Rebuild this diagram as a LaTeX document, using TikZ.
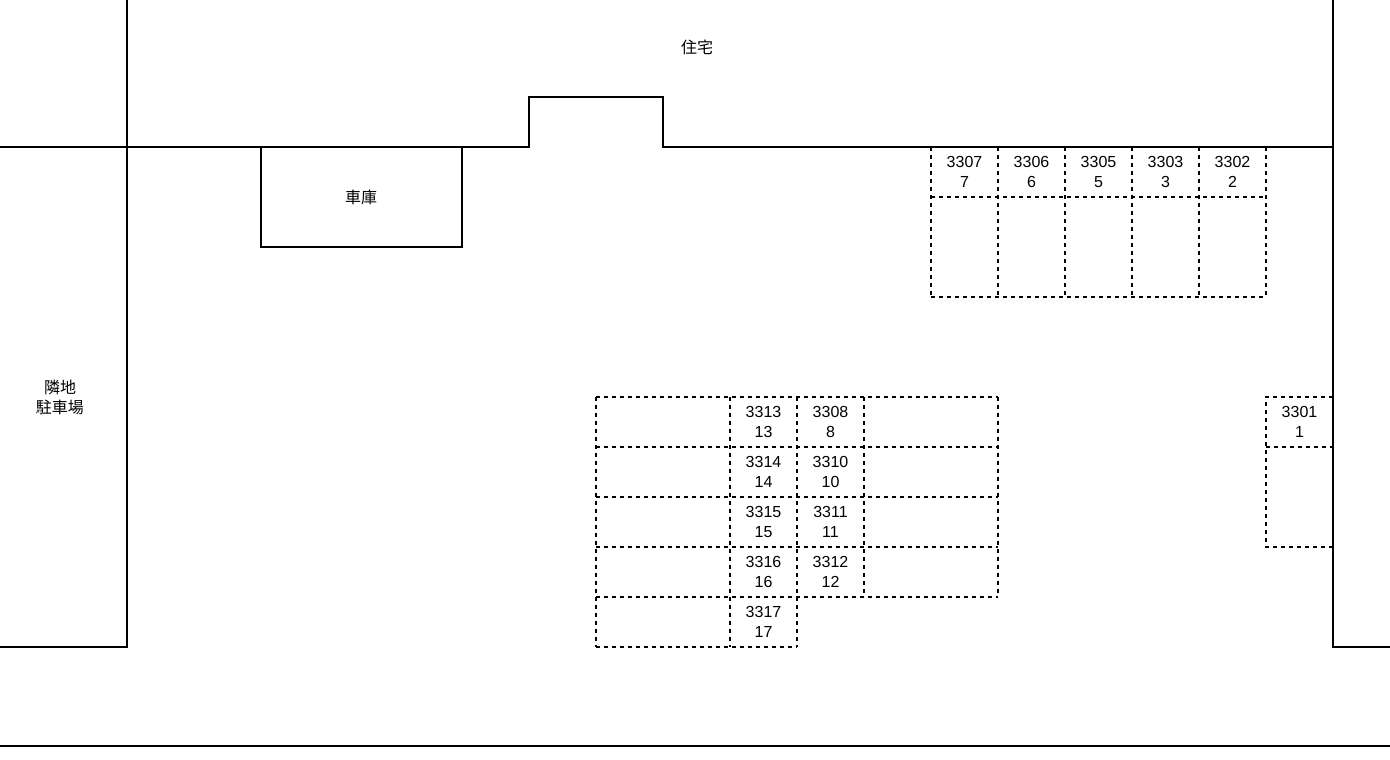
\documentclass[tikz,border=0pt]{standalone}
\usepackage{fontspec}
\setmainfont{Liberation Sans}
\newfontfamily\cjk{Noto Sans CJK JP}
\begin{document}
\begin{tikzpicture}[x=0.75pt,y=-0.75pt,line width=1.5pt,
  wall/.style={draw,black},
  slot/.style={draw,black,line width=1.2pt,dash pattern=on 3pt off 3pt},
  lbl/.style={align=center,font=\fontsize{12}{15}\selectfont,inner sep=0pt}]
\useasboundingbox (0,0) rectangle (1390,760);
% boundaries
\draw[wall] (127,0) -- (127,647) -- (0,647);
\draw[wall] (0,147) -- (529,147) -- (529,97) -- (663,97) -- (663,147) -- (1333,147);
\draw[wall] (1333,0) -- (1333,647) -- (1390,647);
\draw[wall] (0,746) -- (1390,746);
\draw[wall] (261,147) rectangle (462,247);
\node[lbl] (house) at (697,47) {\cjk 住宅};
\node[lbl] (garage) at (361,197) {\cjk 車庫};
\node[lbl] (neighbor) at (60,397) {\cjk 隣地\\\cjk 駐車場};
% top row slots
\foreach \x/\a/\b in {931/3307/7,998/3306/6,1065/3305/5,1132/3303/3,1199/3302/2}{
  \node[lbl] (t\b) at (\x+33.5,172) {\a\\\b};
}
\foreach \x in {931,998,...,1266}{\draw[slot] (\x,147) -- (\x,297);}
\foreach \y in {197,297}{\draw[slot] (931,\y) -- (1266,\y);}
% middle block
\foreach \y in {397,447,...,597}{\draw[slot] (596,\y) -- (998,\y);}
\draw[slot] (596,647) -- (797,647);
\foreach \x in {596,730,797}{\draw[slot] (\x,397) -- (\x,647);}
\foreach \x in {864,998}{\draw[slot] (\x,397) -- (\x,597);}
\foreach \y/\a/\b in {397/3313/13,447/3314/14,497/3315/15,547/3316/16,597/3317/17}{
  \node[lbl] (m\b) at (763.5,\y+25) {\a\\\b};}
\foreach \y/\a/\b in {397/3308/8,447/3310/10,497/3311/11,547/3312/12}{
  \node[lbl] (m\b) at (830.5,\y+25) {\a\\\b};}
% right slot
\draw[slot] (1333,397) -- (1266,397) -- (1266,547) -- (1333,547);
\draw[slot] (1266,447) -- (1333,447);
\node[lbl] (r1) at (1299.5,422) {3301\\1};
\end{tikzpicture}
\end{document}
